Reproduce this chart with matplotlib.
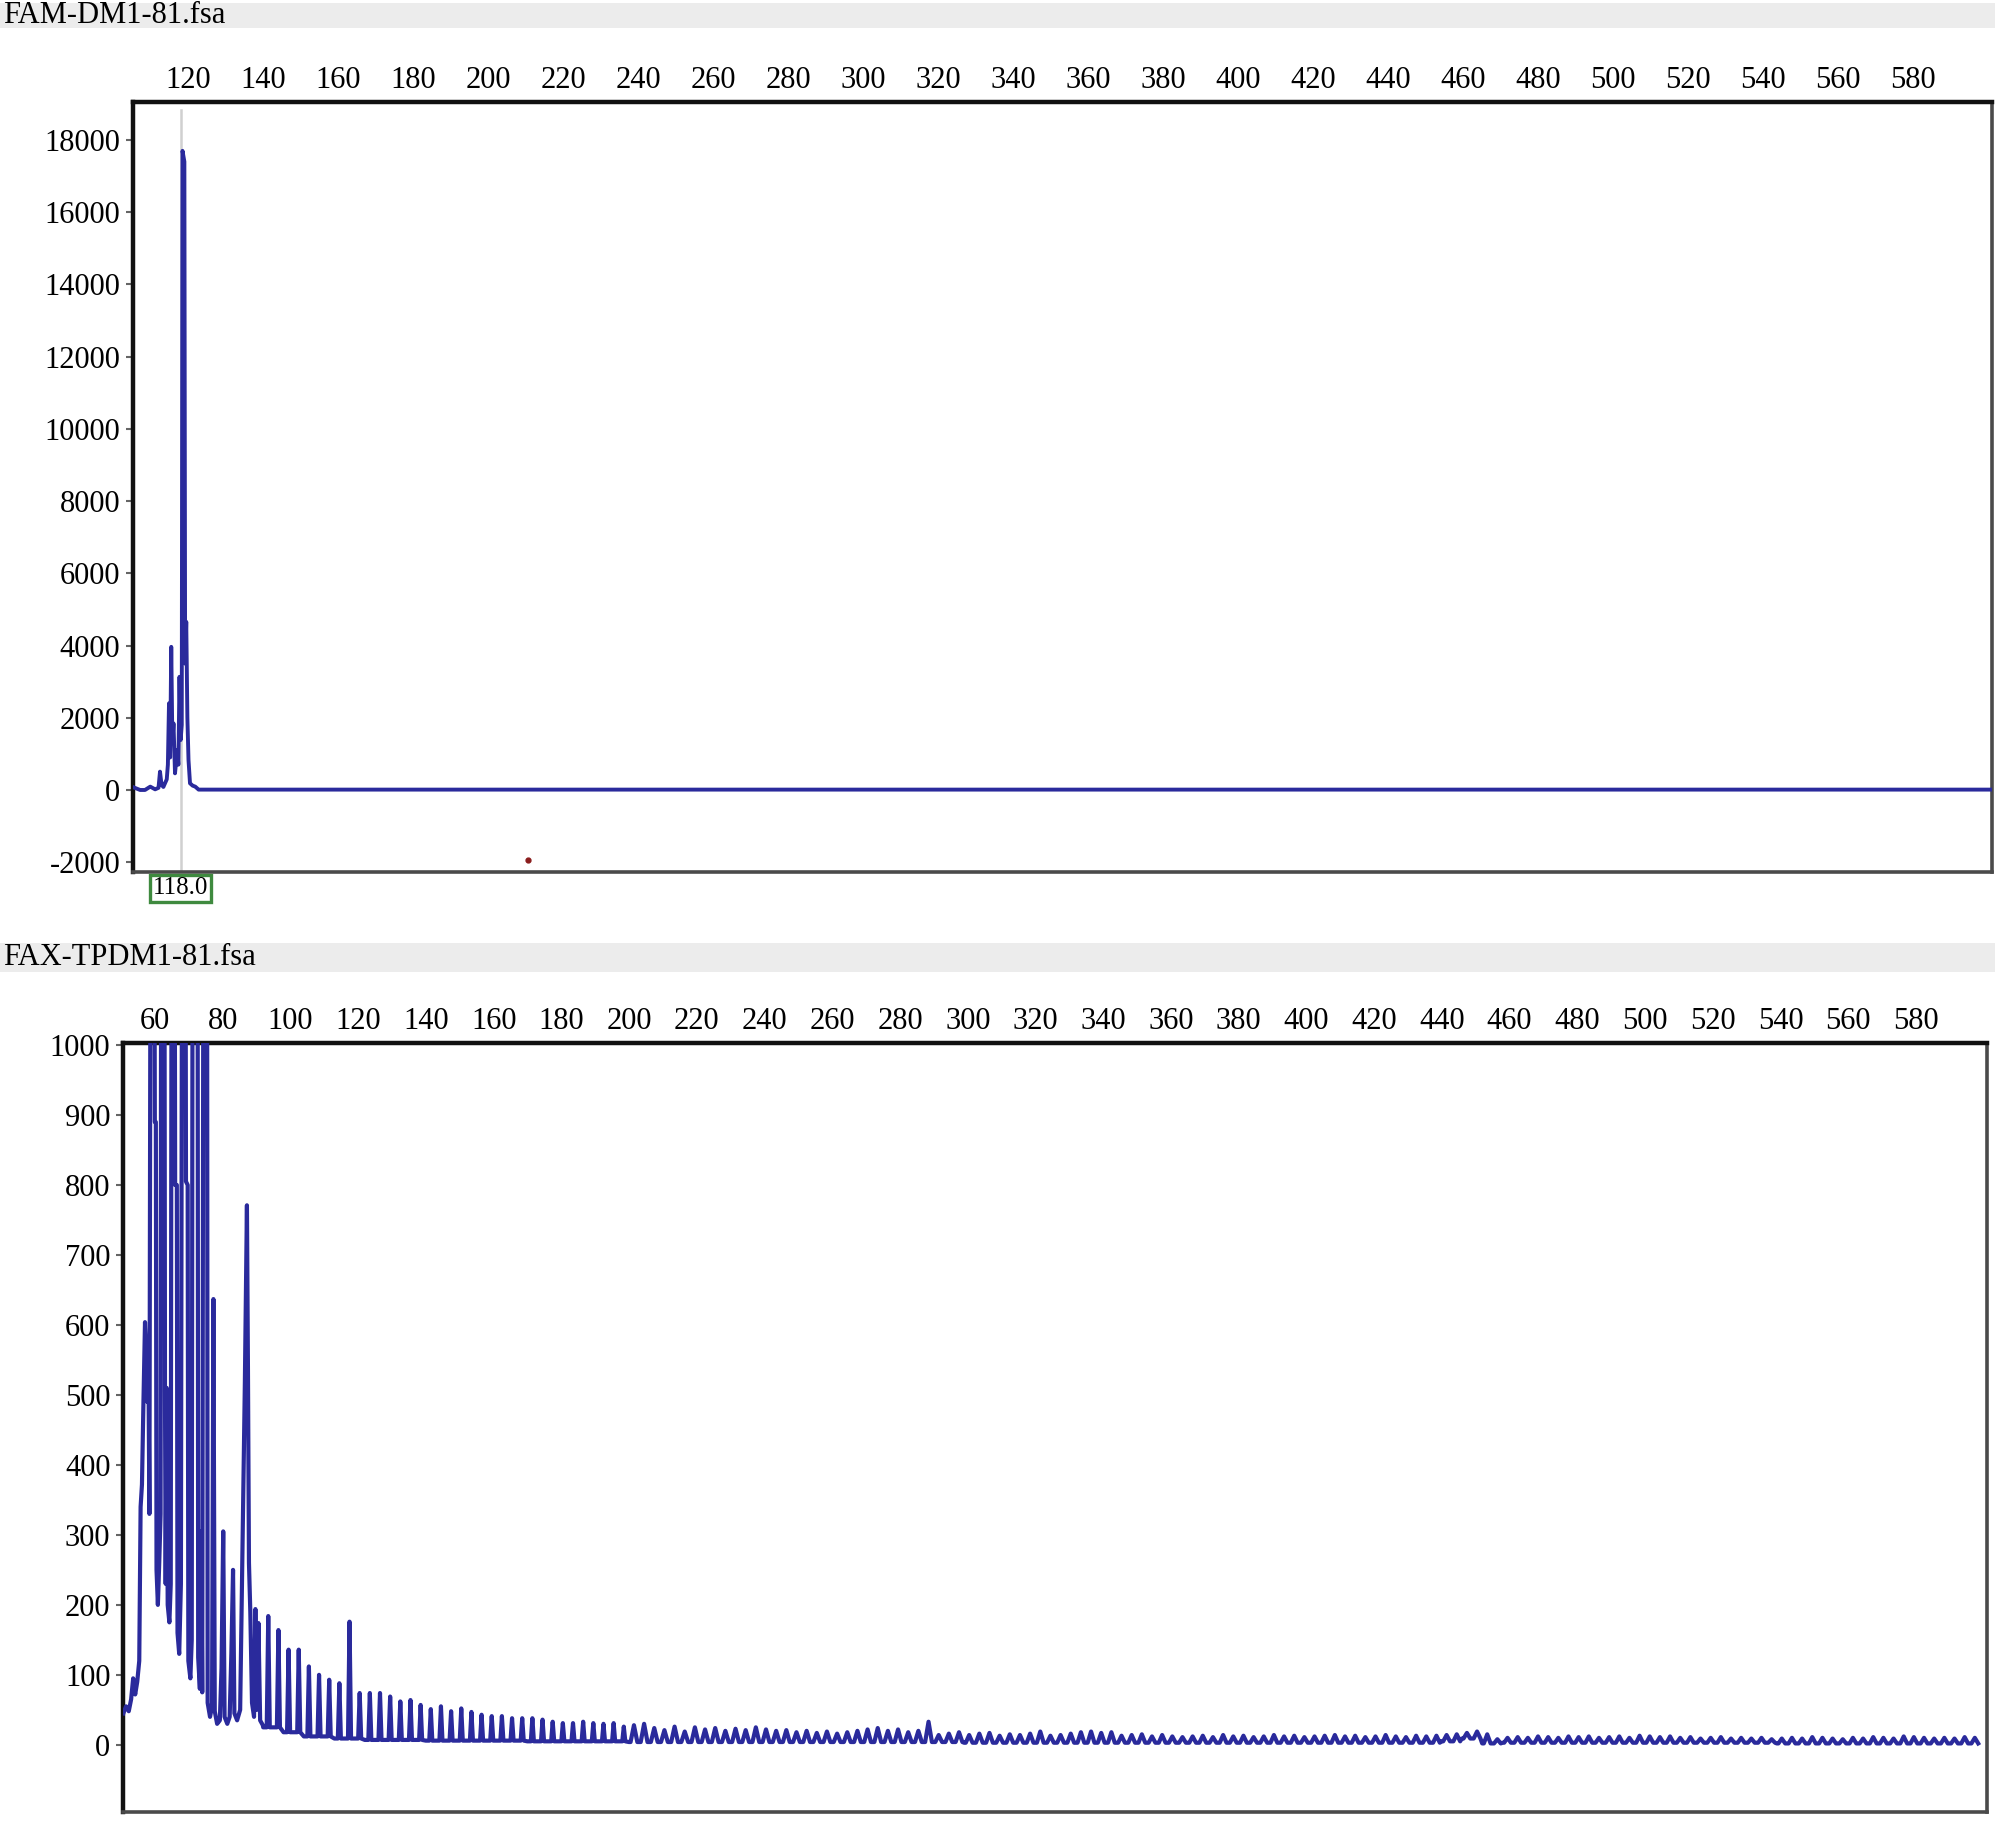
import numpy as np
import matplotlib.pyplot as plt
from matplotlib.patches import Rectangle
import matplotlib.transforms as mtransforms

plt.rcParams['font.family'] = ['Liberation Serif', 'DejaVu Serif']
plt.rcParams['axes.unicode_minus'] = False

# ---- panel names / ticks
top_name = 'FAM-DM1-81.fsa'
bottom_name = 'FAX-TPDM1-81.fsa'
top_xticks = list(range(120, 581, 20))
top_yticks = list(range(-2000, 18001, 2000))
bottom_xticks = list(range(60, 581, 20))
bottom_yticks = list(range(0, 1001, 100))

# ---- top trace (size in bp, RFU)
top_trace = [(105.4, 75), (107.2, 0), (108.5, 0), (109.9, 92), (111.2, 18), (112.1, 60),
             (112.5, 507), (112.9, 150), (113.4, 83), (114.3, 295), (114.6, 700),
             (114.9, 2400), (115.2, 900), (115.5, 3964), (115.8, 1300), (116.1, 1845),
             (116.5, 461), (117.1, 1106), (117.4, 700), (117.7, 3134), (118.0, 1383),
             (118.3, 1800), (118.5, 17700), (119.0, 17400), (119.2, 3500), (119.5, 4656),
             (119.8, 2000), (120.1, 830), (120.5, 185), (121.2, 120), (121.9, 92),
             (122.8, 10), (601.0, 10)]
top_marker_bp = 118.0
top_marker_label = '118.0'
red_dot = (210.7, -1936)

# ---- bottom trace, first part (un-ladder-like, clipped peaks > 1000)
bottom_early = [(50.6, 45), (51.4, 55), (52.2, 48), (52.9, 65), (53.5, 95), (54.1, 72),
                (54.7, 90), (55.3, 120), (55.7, 340), (56.1, 372), (56.5, 480), (57.0, 604),
                (57.4, 560), (57.7, 490), (58.0, 548), (58.3, 330), (58.7, 1400), (59.7, 1400),
                (59.9, 890), (60.2, 890), (60.4, 250), (60.8, 200), (61.2, 260), (61.6, 330),
                (61.8, 1400), (62.7, 1400), (62.9, 505), (63.1, 230), (63.4, 510), (63.7, 200),
                (64.2, 175), (64.6, 230), (64.9, 1400), (65.7, 1400), (65.9, 800), (66.4, 800),
                (66.6, 160), (67.1, 130), (67.6, 230), (68.0, 1400), (68.9, 1400), (69.1, 805),
                (69.6, 800), (69.8, 120), (70.4, 95), (70.8, 150), (71.1, 1400), (72.5, 1400),
                (72.7, 125), (73.2, 80), (73.6, 305), (73.9, 75), (74.3, 1400), (75.3, 1400),
                (75.5, 60), (76.2, 40), (76.8, 55), (77.2, 637), (77.6, 48), (78.3, 30),
                (79.1, 35), (79.6, 110), (80.1, 305), (80.5, 40), (81.3, 30), (82.0, 40),
                (82.5, 130), (83.0, 250), (83.4, 45), (84.2, 35), (85.1, 50), (85.8, 290),
                (86.5, 520), (87.1, 771), (87.4, 538), (87.7, 260), (88.1, 190), (88.6, 60),
                (89.2, 40), (89.6, 194), (90.0, 50), (90.5, 174), (91.0, 35), (91.8, 28)]

# ---- bottom trace, 3 bp repeat ladder from 93.4 bp
ladder_start = 93.4
ladder_step = 3.0
ladder_heights = [184, 164, 136, 136, 112, 100, 93, 88, 176, 74,
                  74, 74, 69, 62, 64, 57, 51, 55, 48, 52,
                  47, 43, 41, 41, 38, 38, 38, 36, 33, 31,
                  31, 33, 31, 30, 31, 26, 28, 30, 24, 21,
                  26, 19, 25, 22, 24, 20, 23, 21, 25, 22,
                  20, 21, 18, 20, 17, 19, 16, 18, 20, 22,
                  24, 20, 22, 18, 20, 33, 14, 16, 18, 14,
                  16, 17, 13, 15, 14, 16, 19, 13, 14, 16,
                  18, 19, 17, 18, 13, 14, 15, 12, 14, 12,
                  11, 12, 13, 11, 14, 12, 13, 11, 12, 14,
                  12, 13, 11, 12, 13, 14, 12, 13, 11, 12,
                  14, 12, 11, 13, 12, 13, 14, 15, 17, 19,
                  15, 8, 10, 11, 10, 12, 11, 10, 12, 11,
                  12, 10, 11, 12, 10, 13, 12, 11, 12, 10,
                  11, 9, 10, 11, 9, 10, 9, 10, 8, 9,
                  10, 9, 11, 10, 9, 8, 10, 9, 11, 10,
                  9, 12, 11, 10, 9, 10, 9, 11, 10]
# trough level between ladder peaks: (from bp, level)
valley_start = [93, 98, 104, 112, 122, 140, 170, 200, 250, 300, 440, 446, 453, 458, 540]
valley_level = [25, 18, 12, 9, 7, 6, 5, 4, 4, 3, 5, 9, 2, 3, 2]

TRACE = '#2a2a9c'
FS = 22


def ladder_points():
    xs, ys = [], []
    for i, h in enumerate(ladder_heights):
        x = ladder_start + i * ladder_step
        if x > 600.5:
            break
        v = valley_level[max(0, np.searchsorted(valley_start, x, side='right') - 1)]
        hw = 0.45 if x < 200 else 1.0
        xs += [x - 1.5 + 0.01, x - hw, x, x + hw]
        ys += [v, v, h, v]
    return xs, ys


def style_axes(ax, xlim, ylim, xticks, yticks):
    ax.set_xlim(*xlim)
    ax.set_ylim(*ylim)
    ax.xaxis.tick_top()
    ax.set_xticks(xticks)
    ax.set_yticks(yticks)
    ax.tick_params(axis='x', length=0, pad=5, labelsize=FS)
    ax.tick_params(axis='y', length=5, width=1.5, color='#666666', pad=4, labelsize=FS)
    for s in ['top', 'left']:
        ax.spines[s].set_linewidth(3.2)
        ax.spines[s].set_color('#111111')
    for s in ['right', 'bottom']:
        ax.spines[s].set_linewidth(2.6)
        ax.spines[s].set_color('#4a4a4a')


fig = plt.figure(figsize=(20, 18.23), dpi=100)

# header bars
for y0, h, name, yt in [(0.98464, 0.01371, top_name, 0.9915),
                        (0.4668, 0.0159, bottom_name, 0.4745)]:
    fig.patches.append(Rectangle((0, y0), 0.9975, h, transform=fig.transFigure,
                                 facecolor='#ececec', edgecolor='none', zorder=0))
    fig.text(0.0015, yt, name, fontsize=FS, va='center', ha='left')

# ---- top panel
ax1 = fig.add_axes([0.0665, 0.5217, 0.9295, 0.4223])
style_axes(ax1, (105.3, 601), (-2270, 19050), top_xticks, top_yticks)
ax1.plot([top_marker_bp, top_marker_bp], [-2270, 18830], color='#d0d0d0', lw=1.8, zorder=1)
tx, ty = zip(*top_trace)
ax1.plot(tx, ty, color=TRACE, lw=2.8, zorder=3)
ax1.plot(*red_dot, 'o', color='#8a1c1c', ms=3.5, zorder=4)
trans = mtransforms.blended_transform_factory(ax1.transData, ax1.transAxes)
ax1.text(top_marker_bp, -0.021, top_marker_label, transform=trans, ha='center', va='center',
         fontsize=18, clip_on=False,
         bbox=dict(boxstyle='square,pad=0.1', facecolor='white', edgecolor='#3f8a3f', lw=2.4))

# ---- bottom panel
ax2 = fig.add_axes([0.0615, 0.00603, 0.932, 0.42187])
style_axes(ax2, (50.5, 601), (-96, 1003), bottom_xticks, bottom_yticks)
ex, ey = zip(*bottom_early)
lx, ly = ladder_points()
ax2.plot(list(ex) + lx, list(ey) + ly, color=TRACE, lw=3.0, zorder=3)

fig.savefig('out.png', dpi=100)
